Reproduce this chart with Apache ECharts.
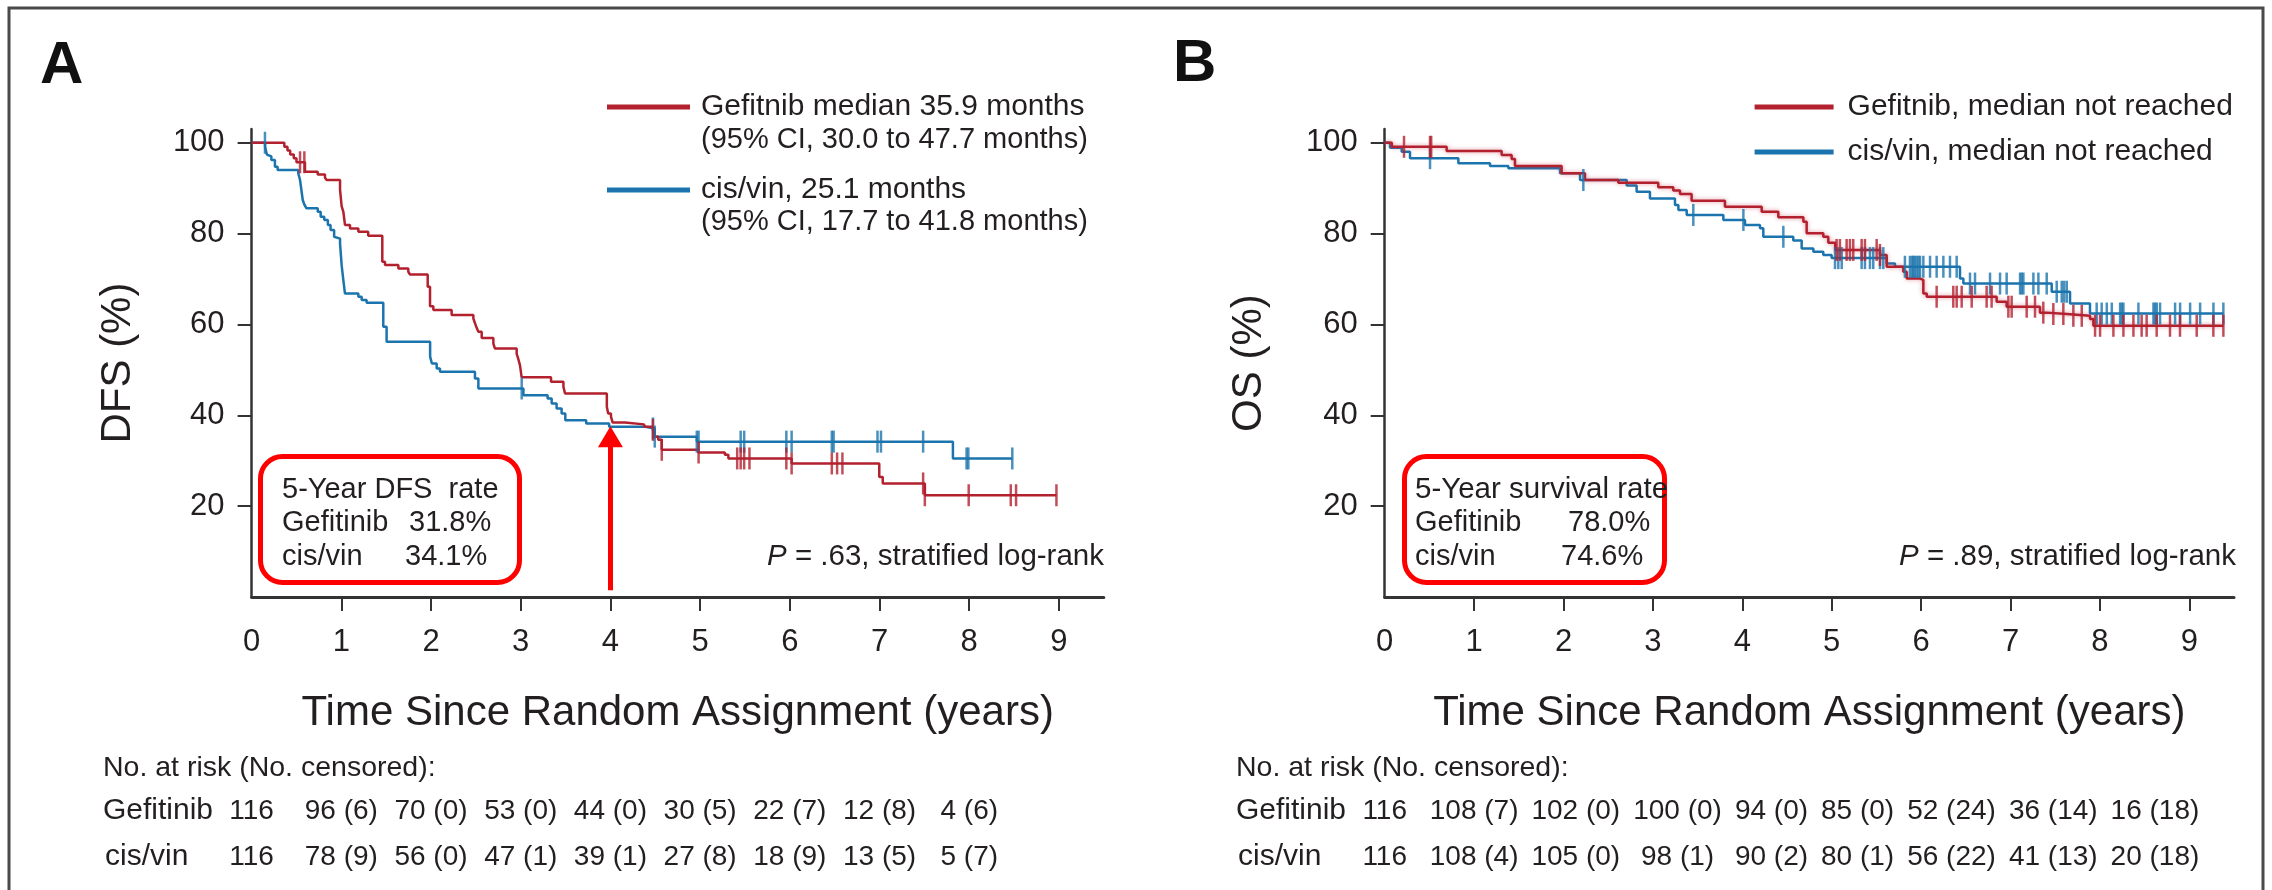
<!DOCTYPE html>
<html><head><meta charset="utf-8">
<script src="https://cdn.jsdelivr.net/npm/echarts@6/dist/echarts.min.js"></script>
<style>html,body{margin:0;padding:0;background:#fff}#c{width:2272px;height:890px}</style>
</head><body><div id="c"></div>
<script>
// ---------- data ----------
const xTickValues = [0,1,2,3,4,5,6,7,8,9];
const xTickMarks = [1,2,3,4,5,6,7,8,9];
const yTickValues = [20,40,60,80,100];

// Panel A: DFS
const dfsGefName = 'Gefitnib median 35.9 months';
const dfsGefCI = '(95% CI, 30.0 to 47.7 months)';
const dfsCisName = 'cis/vin, 25.1 months';
const dfsCisCI = '(95% CI, 17.7 to 41.8 months)';
const dfsGefTimes = [0,0.365,0.40,0.43,0.47,0.50,0.595,0.737,0.818,0.837,0.986,1.004,1.023,1.041,1.097,1.19,1.30,1.457,1.487,1.636,1.747,1.766,1.963,1.989,2.026,2.23,2.472,2.49,2.51,2.528,2.565,2.695,2.713,2.955,2.973,2.992,3.01,3.338,3.476,3.494,3.96,3.975,4.006,4.025,4.162,4.376,4.474,4.494,4.533,4.572,4.98,5.276,5.315,6.02,6.997,7.036,7.505,8.972];
const dfsGefSurv  = [100,99.1,98.3,97.4,96.6,95.7,93.6,93.0,92.3,91.8,89.6,86.0,84.8,81.9,81.1,80.4,79.5,73.8,73.1,72.3,71.6,71.0,68.3,64.0,63.2,62.1,61.3,60.3,59.2,58.4,57.0,55.8,54.7,53.5,52.4,51.0,48.4,47.4,46.3,44.8,41.9,40.4,39.7,38.4,38.0,37.5,36.8,35.3,34.6,32.4,31.8,31.3,30.5,29.4,26.4,25.0,22.4,22.4];
const dfsGefCensor = [0.54,0.588,4.474,4.572,4.983,5.413,5.452,5.491,5.55,5.961,6.02,6.468,6.527,6.586,7.486,7.505,7.994,8.463,8.522,8.972];
const dfsCisTimes = [0,0.15,0.17,0.19,0.22,0.26,0.29,0.52,0.54,0.555,0.57,0.59,0.61,0.737,0.77,0.81,0.85,0.88,0.92,0.94,0.986,1.004,1.023,1.041,1.19,1.227,1.282,1.468,1.505,1.99,2.01,2.063,2.10,2.49,2.528,3.03,3.30,3.345,3.40,3.456,3.497,3.73,3.986,4.39,4.494,4.963,7.818,8.48];
const dfsCisSurv  = [100,99.1,97.4,97.0,96.2,94.7,94.0,93.3,91.8,89.6,87.4,86.3,85.6,84.8,83.7,83.0,81.9,80.8,79.3,78.9,77.8,73.0,69.7,66.8,66.1,65.4,64.8,59.5,56.2,52.9,51.4,50.3,49.6,48.1,45.9,44.4,43.7,42.6,41.5,40.4,38.9,38.2,37.5,37.1,35.3,34.2,30.5,30.5];
const dfsCisCensor = [0.149,3.011,4.474,4.494,4.963,4.983,5.452,5.491,5.961,6.02,6.468,6.488,6.977,7.016,7.486,7.97,7.99,8.48];
const dfsRates = ['31.8%','34.1%'];
const dfsP = '.63';
const arrowYear = 4;

// Panel B: OS
const osGefName = 'Gefitnib, median not reached';
const osCisName = 'cis/vin, median not reached';
const osGefTimes = [0,0.08,0.693,1.308,1.42,1.457,1.979,2.24,2.613,3.06,3.228,3.303,3.433,3.806,4.217,4.403,4.683,4.72,4.906,4.962,5.04,5.54,5.615,5.801,5.839,5.988,6.025,6.063,6.845,6.957,7.33,7.405,7.629,7.89,7.927,9.381];
const osGefSurv  = [100,99.1,98.2,97.3,96.4,94.9,93.3,91.8,91.2,90.2,89.5,88.7,87.2,85.9,84.8,83.6,82.6,80.1,79.3,78.0,76.4,75.3,72.7,71.6,70.1,69.8,66.8,66.1,65.0,63.9,62.6,62.3,61.9,61.2,59.7,59.7];
const osGefCensor = [0.216,0.507,0.52,5.055,5.092,5.167,5.204,5.241,5.335,5.372,5.503,5.54,6.174,6.36,6.398,6.454,6.566,6.733,6.789,6.976,7.013,7.181,7.274,7.367,7.479,7.591,7.703,7.797,7.946,8.002,8.151,8.263,8.375,8.467,8.523,8.635,8.784,8.896,9.083,9.269,9.381];
const osCisTimes = [0,0.06,0.19,0.283,0.824,1.178,1.383,1.961,2.185,2.707,2.818,2.967,3.247,3.285,3.378,3.788,4.03,4.198,4.235,4.57,4.664,4.795,4.906,4.999,5.615,5.708,6.435,6.473,7.461,7.666,7.889,9.381];
const osCisSurv  = [100,98.9,98.0,96.6,95.5,94.9,94.4,93.3,91.8,90.6,89.2,87.7,86.3,85.2,84.1,83.0,81.9,81.2,79.3,78.5,76.7,76.0,75.3,74.6,73.4,72.7,70.1,69.0,67.2,64.6,62.4,62.4];
const osCisCensor = [0.507,2.222,3.452,4.012,4.459,5.037,5.074,5.112,5.335,5.372,5.428,5.465,5.54,5.577,5.819,5.875,5.9,5.913,5.93,5.95,5.97,5.988,6.025,6.1,6.174,6.249,6.323,6.398,6.547,6.603,6.771,6.883,6.957,7.107,7.125,7.144,7.256,7.312,7.405,7.517,7.573,7.6,7.629,7.964,8.02,8.077,8.133,8.226,8.245,8.263,8.431,8.599,8.617,8.636,8.673,8.841,8.897,9.009,9.121,9.27,9.381];
const osRates = ['78.0%','74.6%'];
const osP = '.89';

// Number at risk tables (years 0..8)
const riskYears = [0,1,2,3,4,5,6,7,8];
const dfsRiskGef = ['116','96 (6)','70 (0)','53 (0)','44 (0)','30 (5)','22 (7)','12 (8)','4 (6)'];
const dfsRiskCis = ['116','78 (9)','56 (0)','47 (1)','39 (1)','27 (8)','18 (9)','13 (5)','5 (7)'];
const osRiskGef = ['116','108 (7)','102 (0)','100 (0)','94 (0)','85 (0)','52 (24)','36 (14)','16 (18)'];
const osRiskCis = ['116','108 (4)','105 (0)','98 (1)','90 (2)','80 (1)','56 (22)','41 (13)','20 (18)'];

// ---------- styling ----------
const FONT = "'Liberation Sans', Arial, Helvetica, sans-serif";
const RED = '#B3212F';
const BLUE = '#1B74AD';
const TXT = '#231F20';
const AXIS = '#333333';

function zip(t, s){ return t.map((v,i)=>[v, s[i]]); }
function survAt(t, s, x){ let v = s[0]; for (let i=0;i<t.length;i++){ if (t[i] <= x) v = s[i]; } return v; }
function censorPts(c, t, s){ return c.map(x => [x, survAt(t, s, x)]); }

function lineSeries(name, idx, t, s, color, extra){
  return Object.assign({
    name, type:'line', xAxisIndex:idx, yAxisIndex:idx, step:'end',
    data: zip(t,s), showSymbol:false, symbol:'none', silent:true, animation:false,
    lineStyle:{color, width:2.5}, itemStyle:{color}, z:3
  }, extra||{});
}
function censorSeries(name, idx, c, t, s, color){
  return { name, type:'scatter', xAxisIndex:idx, yAxisIndex:idx, data: censorPts(c,t,s),
    symbol:'rect', symbolSize:[2.5,22], itemStyle:{color}, silent:true, animation:false, z:4 };
}
function xAxisCfg(idx){
  return { gridIndex:idx, type:'value', min:0, max:9.5,
    axisLine:{show:true, onZero:false, lineStyle:{color:AXIS, width:3}},
    axisTick:{show:true, customValues:xTickMarks, length:14, lineStyle:{color:AXIS, width:2}},
    axisLabel:{customValues:xTickValues, fontSize:31, color:TXT, margin:30, fontFamily:FONT},
    splitLine:{show:false},
    name:'Time Since Random Assignment (years)', nameLocation:'middle', nameGap:95,
    nameTextStyle:{fontSize:42, color:TXT, fontFamily:FONT} };
}
function yAxisCfg(idx, name, gap){
  return { gridIndex:idx, type:'value', min:0, max:103,
    axisLine:{show:true, lineStyle:{color:AXIS, width:2.5}},
    axisTick:{show:true, customValues:yTickValues, length:14, lineStyle:{color:AXIS, width:2}},
    axisLabel:{customValues:yTickValues, fontSize:31, color:TXT, margin:27, fontFamily:FONT},
    splitLine:{show:false},
    name, nameLocation:'middle', nameRotate:90, nameGap:gap,
    nameTextStyle:{fontSize:42, color:TXT, fontFamily:FONT} };
}
function txt(x, y, text, size, opts){
  opts = opts || {};
  const st = Object.assign({ text, x:0, y:0, fill:TXT, fontSize:size, fontFamily:FONT,
    align:'left', verticalAlign:'middle', textAlign:'left', textVerticalAlign:'middle' }, opts);
  return { type:'text', x, y, silent:true, style:st, z:10 };
}

const chart = echarts.init(document.getElementById('c'), null, {renderer:'canvas'});

const option = {
  animation:false,
  backgroundColor:'#ffffff',
  textStyle:{fontFamily:FONT},
  grid:[
    {left:251.6, top:129.1, width:852.2, height:467.9},
    {left:1384.7, top:129.1, width:849.3, height:467.9}
  ],
  xAxis:[xAxisCfg(0), xAxisCfg(1)],
  yAxis:[yAxisCfg(0,'DFS (%)',112), yAxisCfg(1,'OS (%)',114)],
  legend:[
    { data:[dfsGefName, dfsCisName], orient:'vertical', left:602, top:87, itemWidth:83, itemHeight:5,
      itemGap:53, icon:'rect', selectedMode:false,
      textStyle:{fontSize:30, color:TXT, fontFamily:FONT, padding:[0,0,0,6]} },
    { data:[osGefName, osCisName], orient:'vertical', left:1749.6, top:87, itemWidth:79, itemHeight:5,
      itemGap:15, icon:'rect', selectedMode:false,
      textStyle:{fontSize:30, color:TXT, fontFamily:FONT, padding:[0,0,0,9]} }
  ],
  series:[
    lineSeries(dfsCisName, 0, dfsCisTimes, dfsCisSurv, BLUE),
    lineSeries(dfsGefName, 0, dfsGefTimes, dfsGefSurv, RED, {
      markLine:{ silent:true, animation:false, symbol:['none','none'],
        label:{show:false}, emphasis:{disabled:true},
        lineStyle:{color:'#FF0000', width:5, type:'solid'},
        data:[[{coord:[arrowYear,1.5]},{coord:[arrowYear,34]}]] },
      markPoint:{ silent:true, animation:false, symbol:'triangle', symbolSize:[25,21],
        itemStyle:{color:'#FF0000'}, label:{show:false},
        data:[{coord:[arrowYear,35.3]}] }
    }),
    censorSeries('dfsCisCensor', 0, dfsCisCensor, dfsCisTimes, dfsCisSurv, BLUE),
    censorSeries('dfsGefCensor', 0, dfsGefCensor, dfsGefTimes, dfsGefSurv, RED),
    lineSeries(osCisName, 1, osCisTimes, osCisSurv, BLUE),
    lineSeries(osGefName, 1, osGefTimes, osGefSurv, RED,
      {lineStyle:{color:RED, width:2.5, shadowBlur:4, shadowColor:'rgba(200,60,80,0.55)'}}),
    censorSeries('osCisCensor', 1, osCisCensor, osCisTimes, osCisSurv, BLUE),
    censorSeries('osGefCensor', 1, osGefCensor, osGefTimes, osGefSurv, RED)
  ]
};
chart.setOption(option);

// ---------- annotations (built after scales exist) ----------
const g = [];
g.push({type:'polyline', silent:true, shape:{points:[[9,900],[9,8],[2263,8],[2263,900]]},
  style:{stroke:'#4a4a4a', lineWidth:3, fill:null}, z:1});
g.push(txt(40, 66, 'A', 60, {fontWeight:'bold', fill:'#111'}));
g.push(txt(1173, 64, 'B', 60, {fontWeight:'bold', fill:'#111'}));
g.push(txt(701, 140, dfsGefCI, 29));
g.push(txt(701, 222, dfsCisCI, 29));

function box(x, y, w, h){
  return {type:'rect', silent:true, shape:{x, y, width:w, height:h, r:22},
    style:{fill:null, stroke:'#FF0000', lineWidth:5}, z:9};
}
g.push(box(260.5, 456.5, 259, 126));
g.push(txt(282, 490, '5-Year DFS  rate', 29));
g.push(txt(282, 523, 'Gefitinib', 29));
g.push(txt(409, 523, dfsRates[0], 29));
g.push(txt(282, 557, 'cis/vin', 29));
g.push(txt(405, 557, dfsRates[1], 29));

g.push(box(1404.5, 456.5, 260, 126));
g.push(txt(1415, 490, '5-Year survival rate', 29.5));
g.push(txt(1415, 523, 'Gefitinib', 29));
g.push(txt(1568, 523, osRates[0], 29));
g.push(txt(1415, 557, 'cis/vin', 29));
g.push(txt(1561, 557, osRates[1], 29));

function pText(xRight, y, p){
  return { type:'text', x:xRight, y, silent:true, z:10,
    style:{ text:'{i|P} = ' + p + ', stratified log-rank', fill:TXT, fontSize:29.5, fontFamily:FONT,
      align:'right', verticalAlign:'middle', textAlign:'right', textVerticalAlign:'middle',
      rich:{ i:{fontStyle:'italic', fontSize:29.5, fontFamily:FONT, fill:TXT} } } };
}
g.push(pText(1104, 557, dfsP));
g.push(pText(2236, 557, osP));

// risk tables: columns centred under ticks, pushed right when a column would overlap the previous one
const NUM_SIZE = 28, COL_GAP = 13;
const mctx = document.createElement('canvas').getContext('2d');
mctx.font = NUM_SIZE + "px 'Liberation Sans', Arial, sans-serif";
function riskTable(axisIdx, labelX, rowsGef, rowsCis){
  g.push(txt(labelX, 768, 'No. at risk (No. censored):', 28.5));
  g.push(txt(labelX, 811, 'Gefitinib', 30));
  g.push(txt(labelX + 2, 857, 'cis/vin', 30));
  let prevRight = -Infinity;
  riskYears.forEach((yr, i) => {
    const w = Math.max(mctx.measureText(rowsGef[i]).width, mctx.measureText(rowsCis[i]).width);
    const tickPx = chart.convertToPixel({xAxisIndex:axisIdx}, yr);
    const cx = Math.max(tickPx, prevRight + COL_GAP + w/2);
    prevRight = cx + w/2;
    g.push(txt(cx, 811, rowsGef[i], NUM_SIZE, {align:'center', textAlign:'center'}));
    g.push(txt(cx, 857, rowsCis[i], NUM_SIZE, {align:'center', textAlign:'center'}));
  });
}
riskTable(0, 103, dfsRiskGef, dfsRiskCis);
riskTable(1, 1236, osRiskGef, osRiskCis);

chart.setOption({graphic:{elements:g}});
</script>
</body></html>
